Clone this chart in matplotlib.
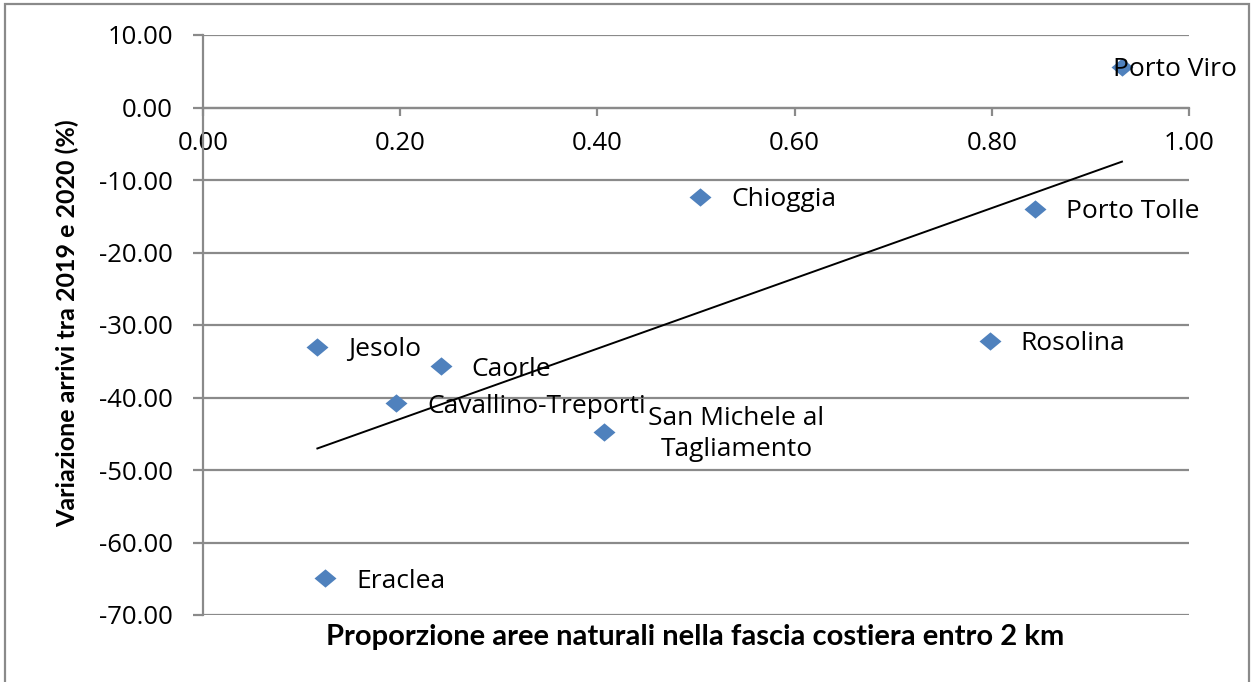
import numpy as np
import matplotlib
matplotlib.use("Agg")
import matplotlib.pyplot as plt
from matplotlib.patches import Rectangle

# Comuni costieri: quota di aree naturali entro 2 km e variazione arrivi 2019-2020
comuni = ["Porto Viro", "Chioggia", "Porto Tolle", "Rosolina", "Jesolo",
          "Caorle", "Cavallino-Treporti", "San Michele al\nTagliamento", "Eraclea"]
prop_naturale = [0.932, 0.504, 0.844, 0.798, 0.116, 0.241, 0.196, 0.407, 0.124]
var_arrivi = [5.6, -12.3, -14.0, -32.2, -33.0, -35.7, -40.8, -44.8, -64.9]

x_ticks = [0.0, 0.2, 0.4, 0.6, 0.8, 1.0]
y_ticks = [10, 0, -10, -20, -30, -40, -50, -60, -70]

DPI = 100
W, H = 1251, 682
px = 72.0 / DPI  # pixel -> point

font = "Open Sans"
plt.rcParams["font.family"] = [font, "DejaVu Sans"]

fig = plt.figure(figsize=(W / DPI, H / DPI), dpi=DPI)
ax = fig.add_axes([203 / W, 1 - 615 / H, 986 / W, 580 / H])

grey = "#8a8a8a"
blue = "#4f81bd"

for s in ("top", "right"):
    ax.spines[s].set_visible(False)
ax.spines["left"].set_color(grey)
ax.spines["left"].set_linewidth(1.6)
ax.spines["bottom"].set_position(("data", 0))
ax.spines["bottom"].set_color(grey)
ax.spines["bottom"].set_linewidth(1.6)

ax.set_xlim(0, 1)
ax.set_ylim(-70, 10)
ax.set_xticks(x_ticks)
ax.set_yticks(y_ticks)
ax.set_xticklabels([f"{v:.2f}" for v in x_ticks])
ax.set_yticklabels([f"{v:.2f}" for v in y_ticks])
ax.tick_params(axis="y", length=10 * px, width=1.6, color=grey, pad=20 * px,
               labelsize=18.5)
ax.tick_params(axis="x", direction="out", length=8 * px, width=1.6, color=grey,
               pad=15 * px, labelsize=18.5)

ax.yaxis.grid(True, color=grey, linewidth=1.6)
ax.set_axisbelow(True)

# Diamond markers, slightly wider than tall
diamond = [(-1.2, 0), (0, 1), (1.2, 0), (0, -1), (-1.2, 0)]
ax.scatter(prop_naturale, var_arrivi, marker=diamond, s=250, color=blue,
           linewidths=0, zorder=3)

# Linear trend line
xs = np.array(prop_naturale)
ys = np.array(var_arrivi)
slope, intercept = np.polyfit(xs, ys, 1)
xl = np.array([xs.min(), xs.max()])
ax.plot(xl, slope * xl + intercept, color="black", linewidth=1.4, zorder=2)

# Data labels (offsets in pixels)
offsets = {
    "Porto Viro": (-9, -3),
    "San Michele al\nTagliamento": (44, -2),
}
for name, x, y in zip(comuni, prop_naturale, var_arrivi):
    dx, dy = offsets.get(name, (31, -3))
    ax.annotate(name, (x, y), xytext=(dx * px, dy * px), textcoords="offset points",
                ha="left", va="center", fontsize=19,
                multialignment="center", linespacing=1.3, zorder=4)

fig.text(695 / W, 1 - 637 / H, "Proporzione aree naturali nella fascia costiera entro 2 km",
         ha="center", va="center", fontfamily="Lato", fontweight="bold", fontsize=21)
fig.text(67 / W, 1 - 323 / H, "Variazione arrivi tra 2019 e 2020 (%)",
         ha="center", va="center", rotation=90, fontfamily="Lato",
         fontweight="bold", fontsize=18)

# Outer chart frame
fig.patches.append(Rectangle((5 / W, -0.05), 1244 / W, 1.05 - 4 / H,
                             transform=fig.transFigure, fill=False,
                             edgecolor=grey, linewidth=1.6))

fig.savefig("out.png", dpi=DPI)
